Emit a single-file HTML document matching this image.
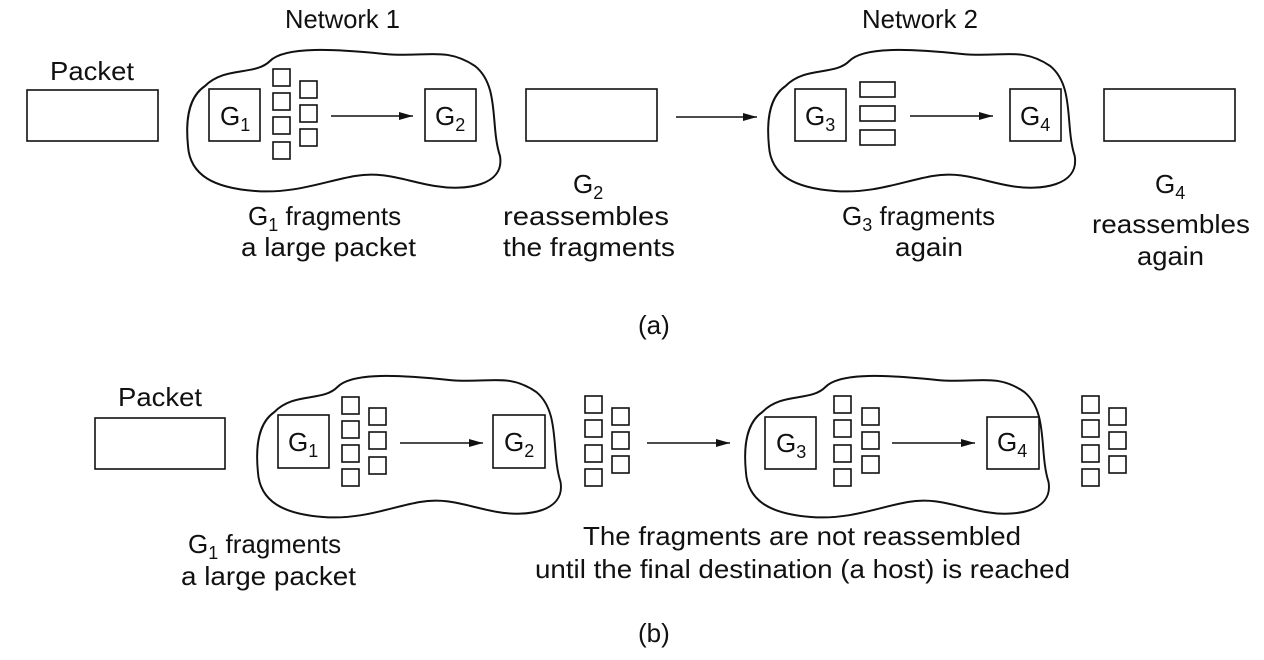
<!DOCTYPE html>
<html><head><meta charset="utf-8"><style>
html,body{margin:0;padding:0;background:#fff;}
svg{display:block;}
text{font-family:"Liberation Sans",sans-serif;font-size:26px;fill:#111;}
</style></head><body>
<svg width="1264" height="660" viewBox="0 0 1264 660" xmlns="http://www.w3.org/2000/svg">
<defs>
<marker id="ah" markerWidth="14" markerHeight="8" refX="14" refY="4" orient="auto" markerUnits="userSpaceOnUse"><path d="M0,0 L14,4 L0,8 Z" fill="#111"/></marker>
<path id="cloud" d="M20,40 C40,20 70,30 85,15 C100,0 150,3 200,8 C240,12 260,0 290,20 C315,40 305,80 315,110 C320,140 280,145 250,140 C220,135 200,125 170,130 C140,135 110,148 70,145 C30,142 5,130 3,100 C0,70 5,50 20,40 Z" fill="none" stroke="#111" stroke-width="2"/>
</defs>
<g fill="none" stroke="#111" stroke-width="1.6">
<rect x="27" y="90" width="131" height="51"/>
<use href="#cloud" transform="translate(185,46)"/>
<rect x="209" y="89" width="51" height="52"/>
<rect x="425" y="89" width="51" height="52"/>
<rect x="273" y="69" width="17" height="17"/><rect x="273" y="93" width="17" height="17"/><rect x="273" y="117" width="17" height="17"/><rect x="273" y="142" width="17" height="17"/>
<rect x="300" y="81" width="17" height="17"/><rect x="300" y="105" width="17" height="17"/><rect x="300" y="129" width="17" height="17"/>
<line x1="331" y1="116" x2="413" y2="116" marker-end="url(#ah)"/>
<rect x="526" y="89" width="131" height="52"/>
<line x1="676" y1="117" x2="757" y2="117" marker-end="url(#ah)"/>
<use href="#cloud" transform="translate(766,46) scale(0.98,1)"/>
<rect x="795" y="89" width="51" height="52"/>
<rect x="860" y="82" width="35" height="15"/><rect x="860" y="106" width="35" height="15"/><rect x="860" y="130" width="35" height="15"/>
<line x1="910" y1="116" x2="993" y2="116" marker-end="url(#ah)"/>
<rect x="1010" y="89" width="51" height="52"/>
<rect x="1104" y="89" width="131" height="52"/>
<rect x="95" y="418" width="130" height="51"/>
<use href="#cloud" transform="translate(255,372) scale(0.97,1)"/>
<rect x="278" y="415" width="51" height="53"/>
<rect x="342" y="397" width="17" height="17"/><rect x="342" y="421" width="17" height="17"/><rect x="342" y="445" width="17" height="17"/><rect x="342" y="469" width="17" height="17"/>
<rect x="369" y="408" width="17" height="17"/><rect x="369" y="432" width="17" height="17"/><rect x="369" y="457" width="17" height="17"/>
<line x1="400" y1="443" x2="483" y2="443" marker-end="url(#ah)"/>
<rect x="493" y="415" width="52" height="53"/>
<rect x="585" y="396" width="17" height="17"/><rect x="585" y="420" width="17" height="17"/><rect x="585" y="445" width="17" height="17"/><rect x="585" y="469" width="17" height="17"/>
<rect x="612" y="408" width="17" height="17"/><rect x="612" y="432" width="17" height="17"/><rect x="612" y="456" width="17" height="17"/>
<line x1="647" y1="443" x2="730" y2="443" marker-end="url(#ah)"/>
<use href="#cloud" transform="translate(743,372) scale(0.97,1)"/>
<rect x="765" y="417" width="51" height="52"/>
<rect x="834" y="396" width="17" height="17"/><rect x="834" y="420" width="17" height="17"/><rect x="834" y="445" width="17" height="17"/><rect x="834" y="469" width="17" height="17"/>
<rect x="862" y="408" width="17" height="17"/><rect x="862" y="432" width="17" height="17"/><rect x="862" y="456" width="17" height="17"/>
<line x1="892" y1="443" x2="975" y2="443" marker-end="url(#ah)"/>
<rect x="987" y="417" width="52" height="52"/>
<rect x="1082" y="396" width="17" height="17"/><rect x="1082" y="420" width="17" height="17"/><rect x="1082" y="445" width="17" height="17"/><rect x="1082" y="469" width="17" height="17"/>
<rect x="1109" y="408" width="17" height="17"/><rect x="1109" y="432" width="17" height="17"/><rect x="1109" y="456" width="17" height="17"/>
</g>
<g>
<text x="285" y="28" textLength="115" lengthAdjust="spacingAndGlyphs">Network 1</text>
<text x="862" y="28" textLength="116" lengthAdjust="spacingAndGlyphs">Network 2</text>
<text x="50" y="80" textLength="84" lengthAdjust="spacingAndGlyphs">Packet</text>
<text x="220" y="125">G<tspan font-size="18" dy="6">1</tspan></text>
<text x="435" y="125">G<tspan font-size="18" dy="6">2</tspan></text>
<text x="805" y="125">G<tspan font-size="18" dy="6">3</tspan></text>
<text x="1020" y="125">G<tspan font-size="18" dy="6">4</tspan></text>
<text x="248" y="225">G<tspan font-size="18" dy="6">1</tspan><tspan dy="-6"> fragments</tspan></text>
<text x="241" y="256" textLength="175" lengthAdjust="spacingAndGlyphs">a large packet</text>
<text x="573" y="193">G<tspan font-size="18" dy="6">2</tspan></text>
<text x="503" y="225" textLength="166" lengthAdjust="spacingAndGlyphs">reassembles</text>
<text x="503" y="256" textLength="172" lengthAdjust="spacingAndGlyphs">the fragments</text>
<text x="842" y="225">G<tspan font-size="18" dy="6">3</tspan><tspan dy="-6"> fragments</tspan></text>
<text x="895" y="256" textLength="68" lengthAdjust="spacingAndGlyphs">again</text>
<text x="1155" y="193">G<tspan font-size="18" dy="6">4</tspan></text>
<text x="1092" y="233" textLength="158" lengthAdjust="spacingAndGlyphs">reassembles</text>
<text x="1137" y="265" textLength="67" lengthAdjust="spacingAndGlyphs">again</text>
<text x="638" y="334">(a)</text>
<text x="118" y="406" textLength="84" lengthAdjust="spacingAndGlyphs">Packet</text>
<text x="288" y="451">G<tspan font-size="18" dy="6">1</tspan></text>
<text x="504" y="451">G<tspan font-size="18" dy="6">2</tspan></text>
<text x="776" y="452">G<tspan font-size="18" dy="6">3</tspan></text>
<text x="997" y="451">G<tspan font-size="18" dy="6">4</tspan></text>
<text x="188" y="553">G<tspan font-size="18" dy="6">1</tspan><tspan dy="-6"> fragments</tspan></text>
<text x="181" y="585" textLength="175" lengthAdjust="spacingAndGlyphs">a large packet</text>
<text x="583" y="545" textLength="438" lengthAdjust="spacingAndGlyphs">The fragments are not reassembled</text>
<text x="535" y="578" textLength="535" lengthAdjust="spacingAndGlyphs">until the final destination (a host) is reached</text>
<text x="638" y="642">(b)</text>
</g>
</svg>
</body></html>
